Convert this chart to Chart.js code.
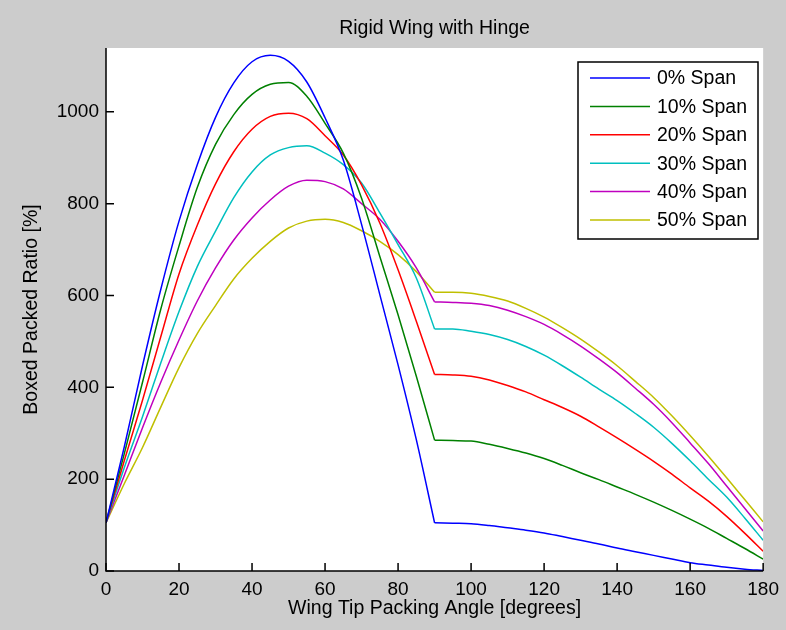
<!DOCTYPE html>
<html><head><meta charset="utf-8">
<script src="https://cdn.jsdelivr.net/npm/chart.js@4.4.0/dist/chart.umd.min.js"></script>
<style>html,body{margin:0;padding:0;background:#cccccc;overflow:hidden;} canvas{display:block;}</style>
</head><body>
<canvas id="c" width="786" height="630"></canvas>
<script>
// ---- data ----
const angles = [0,5,10,15,20,25,30,35,40,45,50,55,60,65,70,75,80,85,90,95,100,105,110,115,120,125,130,135,140,145,150,155,160,165,170,175,180];
const span0  = [105,270,447,613,762,885,988,1063,1109,1123,1110,1065,987,895,755,602,449,286,105,104,103,99,94,89,83,75,67,59,50,42,34,26,18,13,8,4,1];
const span10 = [105,255,411,570,708,835,929,994,1038,1060,1064,1034,975,910,812,685,558,424,285,284,283,276,267,257,245,230,214,199,183,167,150,132,113,93,71,49,26];
const span20 = [105,240,372,510,647,753,843,913,962,990,997,985,948,906,841,758,656,544,428,427,424,416,404,390,373,356,337,314,290,265,239,211,181,152,119,82,43];
const span30 = [105,225,336,453,565,663,740,813,869,906,922,926,910,885,845,780,711,638,527,527,522,515,504,489,470,447,422,396,371,343,313,278,240,200,161,115,67];
const span40 = [105,208,312,411,503,588,660,721,769,808,838,851,848,832,800,766,718,660,586,585,583,578,568,554,537,515,490,462,432,398,363,323,279,234,185,136,87];
const span50 = [105,190,269,357,443,517,578,636,681,718,747,762,766,759,741,718,689,652,607,607,605,598,588,572,553,530,505,477,447,413,378,338,295,250,203,155,107];
const hingeAngle = 90;
const seriesLabels = ['0% Span','10% Span','20% Span','30% Span','40% Span','50% Span'];
const seriesValues = [span0, span10, span20, span30, span40, span50];
const xTicks = [0,20,40,60,80,100,120,140,160,180];
const yTicks = [0,200,400,600,800,1000];
const chartTitle = 'Rigid Wing with Hinge';
const xTitle = 'Wing Tip Packing Angle [degrees]';
const yTitle = 'Boxed Packed Ratio [%]';

// ---- styles ----
const seriesColors = ['#0000ff','#008000','#ff0000','#00bfbf','#bf00bf','#bfbf00'];
const FONT = '"Liberation Sans", Arial, Helvetica, sans-serif';
Chart.defaults.font.family = FONT;
Chart.defaults.color = '#000';

const matlabPlugin = {
  id: 'matlab',
  beforeDraw(chart) {
    const {ctx, chartArea: a} = chart;
    ctx.save();
    ctx.fillStyle = '#cccccc';
    ctx.fillRect(0, 0, chart.width, chart.height);
    ctx.fillStyle = '#ffffff';
    ctx.fillRect(a.left, a.top, a.right - a.left, a.bottom - a.top);
    ctx.restore();
  },
  afterDraw(chart) {
    const {ctx, chartArea: a, scales} = chart;
    ctx.save();
    ctx.strokeStyle = '#000';
    ctx.lineWidth = 1.5;
    ctx.beginPath();
    ctx.moveTo(a.left, a.top);
    ctx.lineTo(a.left, a.bottom);
    ctx.lineTo(a.right, a.bottom);
    ctx.stroke();
    ctx.lineWidth = 1.5;
    ctx.beginPath();
    xTicks.forEach(v => {
      const px = scales.x.getPixelForValue(v);
      ctx.moveTo(px, a.bottom);
      ctx.lineTo(px, a.bottom - 8);
    });
    yTicks.forEach(v => {
      const py = scales.y.getPixelForValue(v);
      ctx.moveTo(a.left, py);
      ctx.lineTo(a.left + 8, py);
    });
    ctx.stroke();
    ctx.fillStyle = '#000';
    ctx.font = '19.5px ' + FONT;
    ctx.textAlign = 'center';
    ctx.textBaseline = 'middle';
    ctx.fillText(chartTitle, (a.left + a.right) / 2, 29);
    const bx = 578, by = 62, bw = 180, bh = 177;
    ctx.fillStyle = '#ffffff';
    ctx.fillRect(bx, by, bw, bh);
    ctx.strokeStyle = '#000';
    ctx.lineWidth = 1.5;
    ctx.strokeRect(bx, by, bw, bh);
    ctx.textAlign = 'left';
    seriesLabels.forEach((label, i) => {
      const y = 78 + i * 28.4;
      ctx.strokeStyle = seriesColors[i];
      ctx.lineWidth = 1.5;
      ctx.beginPath();
      ctx.moveTo(590, y);
      ctx.lineTo(650, y);
      ctx.stroke();
      ctx.fillStyle = '#000';
      ctx.fillText(label, 657, y + 1);
    });
    ctx.restore();
  }
};

// each series is drawn as two pieces (before / after the hinge kink) so the kink stays sharp
const datasets = [];
seriesValues.forEach((vals, i) => {
  const pts = angles.map((a, j) => ({x: a, y: vals[j]}));
  [pts.filter(p => p.x <= hingeAngle), pts.filter(p => p.x >= hingeAngle)].forEach(part => {
    datasets.push({
      label: seriesLabels[i],
      data: part,
      borderColor: seriesColors[i],
      backgroundColor: seriesColors[i],
      borderWidth: 1.5,
      pointRadius: 0,
      fill: false,
      cubicInterpolationMode: 'monotone'
    });
  });
});

new Chart(document.getElementById('c'), {
  type: 'line',
  data: { datasets },
  options: {
    responsive: false,
    animation: false,
    devicePixelRatio: 1,
    layout: { padding: { left: 0, right: 19, top: 48, bottom: 0 } },
    plugins: { legend: { display: false }, title: { display: false }, tooltip: { enabled: false } },
    scales: {
      x: {
        type: 'linear', min: 0, max: 180,
        afterBuildTicks: s => { s.ticks = xTicks.map(v => ({ value: v })); },
        afterFit: s => { s.height = 59; },
        ticks: { padding: 7, font: { size: 19 }, color: '#000', maxRotation: 0, autoSkip: false, callback: v => String(v) },
        grid: { display: false, drawTicks: false },
        border: { display: false },
        title: { display: true, text: xTitle, font: { size: 19.5 }, color: '#000', padding: { top: 0, bottom: 10 } }
      },
      y: {
        type: 'linear', min: 0, max: 1139,
        afterBuildTicks: s => { s.ticks = yTicks.map(v => ({ value: v })); },
        afterFit: s => { s.width = 106; },
        ticks: { padding: 7, font: { size: 19 }, color: '#000', autoSkip: false, callback: v => String(v) },
        grid: { display: false, drawTicks: false },
        border: { display: false },
        title: { display: true, text: yTitle, font: { size: 19.5 }, color: '#000', padding: { top: 20, bottom: 0 } }
      }
    }
  },
  plugins: [matlabPlugin]
});
</script>
</body></html>
